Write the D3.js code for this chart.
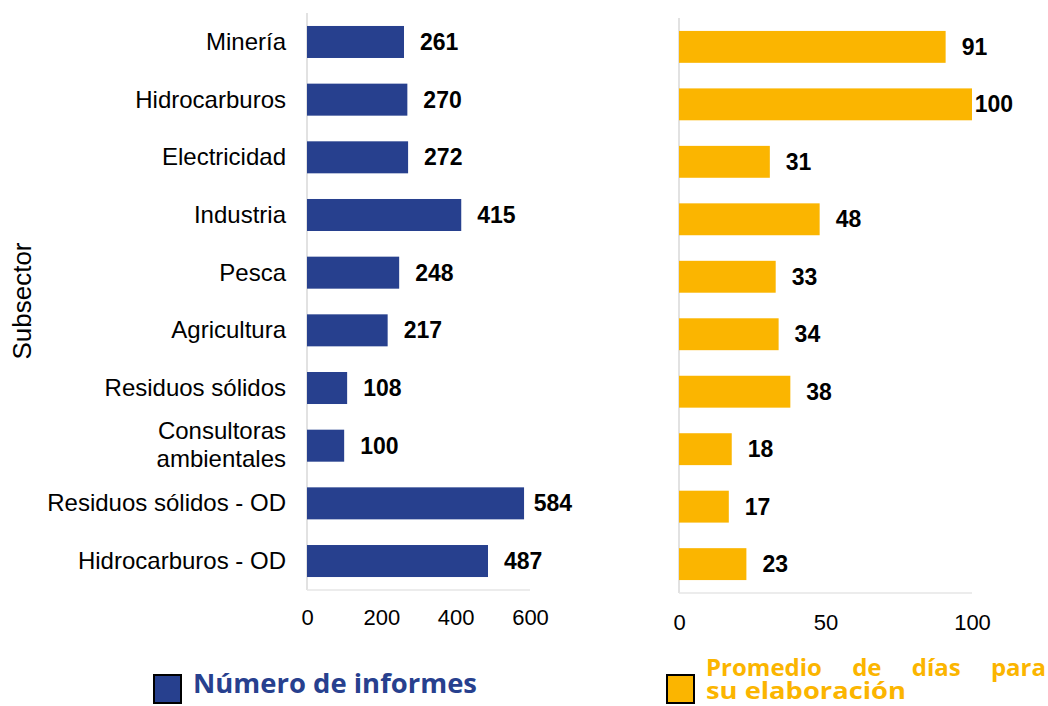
<!DOCTYPE html>
<html>
<head>
<meta charset="utf-8">
<script src="https://cdn.jsdelivr.net/npm/d3@7"></script>
<style>
  body { margin: 0; background: #fff; }
  svg { display: block; font-family: "Liberation Sans", Arial, sans-serif; }
</style>
</head>
<body>
<div id="chart"></div>
<script>
// data
var categories = ["Minería", "Hidrocarburos", "Electricidad", "Industria", "Pesca",
    "Agricultura", "Residuos sólidos", "Consultoras ambientales",
    "Residuos sólidos - OD", "Hidrocarburos - OD"];
var informes = [261, 270, 272, 415, 248, 217, 108, 100, 584, 487];
var dias = [91, 100, 31, 48, 33, 34, 38, 18, 17, 23];
var informesTicks = [0, 200, 400, 600];
var diasTicks = [0, 50, 100];

var width = 1048,
    height = 706,
    blue = "#27408e",
    yellow = "#fbb500";

var svg = d3.select("#chart").append("svg")
    .attr("width", width)
    .attr("height", height);

function panel(opts) {
    var x = d3.scaleLinear().domain(opts.domain).range([opts.x0, opts.x1]);
    var y = d3.scaleBand().domain(categories)
        .range([opts.y0, opts.y1])
        .paddingInner(0.445)
        .paddingOuter(0.225);

    var g = svg.append("g");

    // axis lines
    g.append("line")
        .attr("x1", x(0)).attr("x2", x(0))
        .attr("y1", opts.y0).attr("y2", opts.y1)
        .style("stroke", "#d9d9d9").style("stroke-width", 1.5);
    g.append("line")
        .attr("x1", x(0)).attr("x2", x(opts.domain[1]))
        .attr("y1", opts.y1).attr("y2", opts.y1)
        .style("stroke", "#e6e6e6").style("stroke-width", 1.5);

    g.selectAll("rect.bar")
        .data(opts.values)
        .enter().append("rect")
        .attr("class", "bar")
        .attr("x", x(0))
        .attr("y", function(d, i) { return y(categories[i]); })
        .attr("width", function(d) { return x(d) - x(0); })
        .attr("height", y.bandwidth())
        .style("fill", opts.color);

    g.selectAll("text.val")
        .data(opts.values)
        .enter().append("text")
        .attr("class", "val")
        .attr("y", function(d, i) { return y(categories[i]) + y.bandwidth() / 2 + 8; })
        .style("font-size", "23px")
        .style("font-weight", "bold")
        .style("fill", "#000")
        .text(function(d) { return d; })
        .attr("x", function(d) {
            var w = this.getComputedTextLength();
            return Math.min(x(d) + 16, opts.maxEnd - w);
        });

    var ax = g.append("g")
        .attr("transform", "translate(0," + (opts.y1 + opts.tickGap) + ")")
        .call(d3.axisBottom(x).tickValues(opts.ticks).tickSize(0).tickPadding(0));
    ax.select(".domain").remove();
    ax.selectAll("text")
        .style("font-size", "22px")
        .style("font-family", "'Liberation Sans', Arial, sans-serif")
        .style("fill", "#000")
        .attr("dy", "0.1em");

    return y;
}

var yLeft = panel({
    domain: [0, 600], x0: 307, x1: 530, y0: 13, y1: 590, tickGap: 33,
    values: informes, color: blue, ticks: informesTicks, maxEnd: 572
});

panel({
    domain: [0, 100], x0: 679, x1: 972, y0: 18, y1: 593, tickGap: 35,
    values: dias, color: yellow, ticks: diasTicks, maxEnd: 1013
});

// category labels
var catLabels = svg.append("g").selectAll("text")
    .data(categories)
    .enter().append("text")
    .attr("text-anchor", "end")
    .attr("x", 286)
    .attr("y", function(d) { return yLeft(d) + yLeft.bandwidth() / 2 + 8; })
    .style("font-size", "24px")
    .style("fill", "#000");

catLabels.each(function(d) {
    var t = d3.select(this);
    if (d === "Consultoras ambientales") {
        t.append("tspan").attr("x", 286).attr("dy", "-0.6em").text("Consultoras");
        t.append("tspan").attr("x", 286).attr("dy", "1.15em").text("ambientales");
    } else {
        t.text(d);
    }
});

svg.append("text")
    .attr("transform", "translate(31,301) rotate(-90)")
    .attr("text-anchor", "middle")
    .style("font-size", "26px")
    .style("fill", "#000")
    .text("Subsector");

// legend
var legendFont = "'Open Sans', Lato, sans-serif";

svg.append("rect")
    .attr("x", 154).attr("y", 675)
    .attr("width", 27).attr("height", 28)
    .style("fill", blue).style("stroke", "#000").style("stroke-width", 2);
svg.append("text")
    .attr("x", 193).attr("y", 693)
    .attr("textLength", 284).attr("lengthAdjust", "spacingAndGlyphs")
    .style("font-family", legendFont)
    .style("font-size", "27px")
    .style("font-weight", "bold")
    .style("fill", blue)
    .text("Número de informes");

svg.append("rect")
    .attr("x", 667).attr("y", 675)
    .attr("width", 27).attr("height", 28)
    .style("fill", yellow).style("stroke", "#000").style("stroke-width", 2);
var leg2 = svg.append("text")
    .style("font-family", legendFont)
    .style("font-size", "24px")
    .style("font-weight", "bold")
    .style("fill", yellow);
var line1 = leg2.append("tspan").attr("x", 706).attr("y", 676)
    .text("Promedio de días para");
var w1 = line1.node().getComputedTextLength();
line1.style("word-spacing", ((340 - w1) / 3) + "px");
leg2.append("tspan").attr("x", 706).attr("y", 699)
    .attr("textLength", 200).attr("lengthAdjust", "spacingAndGlyphs")
    .text("su elaboración");
</script>
</body>
</html>
